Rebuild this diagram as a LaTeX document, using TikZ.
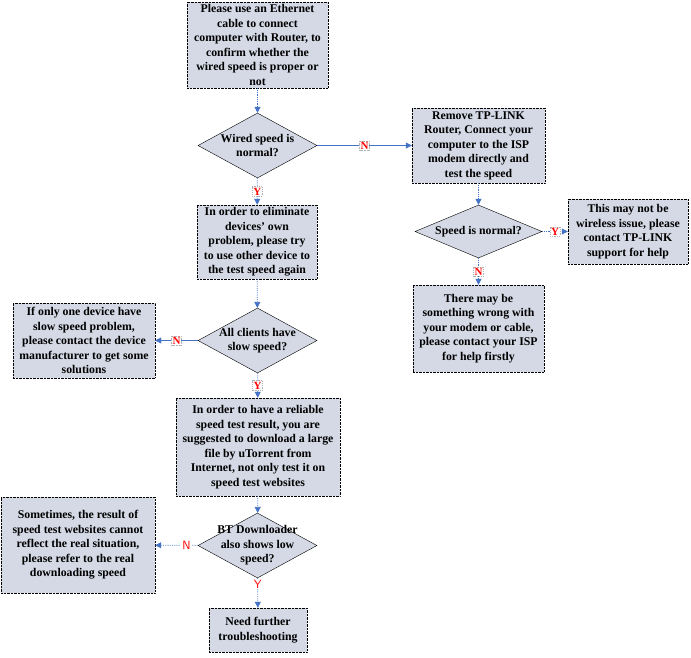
\documentclass[tikz,border=0pt]{standalone}
\usepackage{fontspec}
\setmainfont{Liberation Serif}
\usetikzlibrary{shapes.geometric,arrows.meta}
\definecolor{boxfill}{RGB}{212,217,229}
\definecolor{flowblue}{RGB}{68,114,196}
\tikzset{
  procbox/.style={draw, densely dotted, fill=boxfill, align=center, inner sep=1pt,
    font=\fontsize{11.8}{14.5}\selectfont\bfseries},
  decide/.style={diamond, draw, fill=boxfill, inner sep=0pt},
  decidetext/.style={align=center, font=\fontsize{11.8}{14.5}\selectfont\bfseries},
  flow/.style={draw=flowblue, densely dotted, thick, -{Triangle[length=6pt,width=6pt]}},
  yn/.style={fill=white, text=red, draw=gray!60, densely dotted, inner sep=1pt,
    font=\fontsize{11}{12}\selectfont\bfseries},
  ynsans/.style={fill=white, text=red, inner sep=1pt, font=\fontsize{12}{13}\selectfont\sffamily}
}
\begin{document}
\begin{tikzpicture}[x=1pt,y=-1pt]
\useasboundingbox (0,0) rectangle (691,657);
\node[procbox, minimum width=141pt, minimum height=86pt] (ask) at (257.5,45)
  {Please use an Ethernet\\cable to connect\\computer with Router, to\\confirm whether the\\wired speed is proper or\\not};
\node[decide, minimum width=119pt, minimum height=65pt,
  label={[decidetext]center:Wired speed is\\normal?}] (wired) at (257.5,145.5) {};
\node[procbox, minimum width=133pt, minimum height=75pt] (isp) at (478.5,145.5)
  {Remove TP-LINK\\Router, Connect your\\computer to the ISP\\modem directly and\\test the speed};
\node[decide, minimum width=127pt, minimum height=53pt,
  label={[decidetext]center:Speed is normal?}] (speed) at (478.5,231.5) {};
\node[procbox, minimum width=120pt, minimum height=65pt] (wireless) at (628,231.5)
  {This may not be\\wireless issue, please\\contact TP-LINK\\support for help};
\node[procbox, minimum width=131pt, minimum height=87pt] (modem) at (478.5,328.5)
  {There may be\\something wrong with\\your modem or cable,\\please contact your ISP\\for help firstly};
\node[procbox, minimum width=120pt, minimum height=74pt] (other) at (257,242)
  {In order to eliminate\\devices' own\\problem, please try\\to use other device to\\the test speed again};
\node[decide, minimum width=119pt, minimum height=65pt,
  label={[decidetext]center:All clients have\\slow speed?}] (clients) at (257.5,340.5) {};
\node[procbox, minimum width=142pt, minimum height=75pt] (onedev) at (84,340.5)
  {If only one device have\\slow speed problem,\\please contact the device\\manufacturer to get some\\solutions};
\node[procbox, minimum width=164pt, minimum height=98pt] (reliable) at (258,447)
  {In order to have a reliable\\speed test result, you are\\suggested to download a large\\file by uTorrent from\\Internet, not only test it on\\speed test websites};
\node[decide, minimum width=119pt, minimum height=65pt,
  label={[decidetext]center:BT Downloader\\also shows low\\speed?}] (bt) at (257.5,545.5) {};
\node[procbox, minimum width=154pt, minimum height=96pt] (sometimes) at (78,545)
  {Sometimes, the result of\\speed test websites cannot\\reflect the real situation,\\please refer to the real\\downloading speed};
\node[procbox, minimum width=98pt, minimum height=44pt] (further) at (258,630)
  {Need further\\troubleshooting};
\draw[flow] (ask) -- (wired);
\draw[flow, solid, thin] (wired) -- node[yn] {N} (isp);
\draw[flow] (wired) -- node[yn] {Y} (other);
\draw[flow] (isp) -- (speed);
\draw[flow] (speed) -- node[yn] {Y} (wireless);
\draw[flow] (speed) -- node[yn] {N} (modem);
\draw[flow] (other) -- (clients);
\draw[flow, solid, thin] (clients) -- node[yn] {N} (onedev);
\draw[flow] (clients) -- node[yn] {Y} (reliable);
\draw[flow] (reliable) -- (bt);
\draw[flow] (bt) -- node[ynsans, pos=0.27] {N} (sometimes);
\draw[flow] (bt) -- node[ynsans, pos=0.2] {Y} (further);
\end{tikzpicture}
\end{document}
